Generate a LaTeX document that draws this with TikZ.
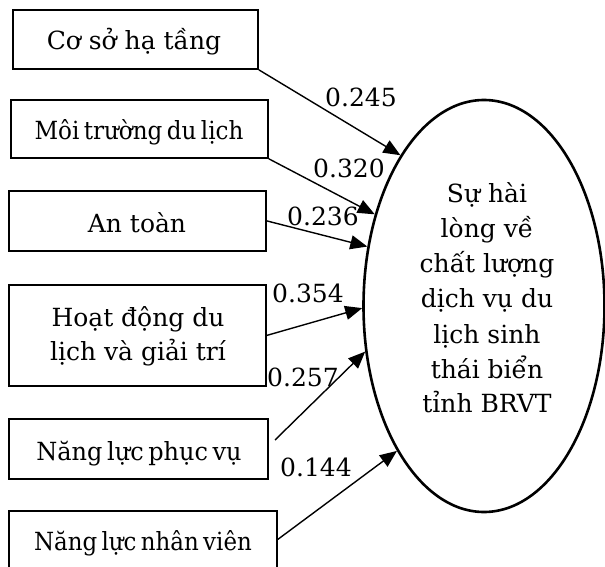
\documentclass[tikz,border=0pt]{standalone}
\usepackage{fontspec}
\usepackage{graphicx}
\setmainfont{DejaVu Serif}
\usetikzlibrary{arrows.meta,shapes.geometric}
% tighter setting for the longer box labels
\newcommand{\tightlabel}[2]{\scalebox{#1}[1]{\spaceskip=0.19em\relax #2}}
\begin{document}
\begin{tikzpicture}[x=1pt,y=-1pt,
  every node/.style={font=\fontsize{25}{35}\selectfont},
  factor/.style={draw,line width=1.8pt,inner sep=0pt,anchor=north west},
  boxtext/.style={inner sep=0pt,anchor=base},
  coef/.style={inner sep=0pt,anchor=base west},
  line/.style={inner sep=0pt,anchor=base},
  path/.style={line width=1.4pt,-{Triangle[length=17pt,width=14pt]}}]
  \useasboundingbox (0,0) rectangle (605,567);

  % factor boxes
  \node[factor,minimum width=245pt,minimum height=59pt] (b1) at (12,9) {};
  \node[factor,minimum width=257pt,minimum height=58pt] (b2) at (10,99) {};
  \node[factor,minimum width=257pt,minimum height=60pt] (b3) at (8,190) {};
  \node[factor,minimum width=257pt,minimum height=101pt] (b4) at (8,284) {};
  \node[factor,minimum width=259pt,minimum height=60pt] (b5) at (8,418) {};
  \node[factor,minimum width=268pt,minimum height=57pt] (b6) at (8,510) {};

  \node[boxtext] (t1) at (134,50) {Cơ sở hạ tầng};
  \node[boxtext] (t2) at (139,140) {\tightlabel{0.923}{Môi trường du lịch}};
  \node[boxtext] (t3) at (137,232) {An toàn};
  \node[boxtext] (t4a) at (138,326) {Hoạt động du};
  \node[boxtext] (t4b) at (138,360) {lịch và giải trí};
  \node[boxtext] (t5) at (139,460) {\tightlabel{0.96}{Năng lực phục vụ}};
  \node[boxtext] (t6) at (143,550) {\tightlabel{0.917}{Năng lực nhân viên}};

  % outcome ellipse
  \node[draw,ellipse,line width=2.6pt,minimum width=241pt,minimum height=412pt,inner sep=0pt] (E) at (484,306) {};
  \node[line] (e1) at (487,202) {Sự hài};
  \node[line] (e2) at (487,237) {lòng về};
  \node[line] (e3) at (487,272) {chất lượng};
  \node[line] (e4) at (487,307) {dịch vụ du};
  \node[line] (e5) at (487,343) {lịch sinh};
  \node[line] (e6) at (487,378) {thái biển};
  \node[line] (e7) at (487,412) {tỉnh BRVT};

  % paths
  \coordinate (s5) at (275,440);
  \draw[path] (b1.south east) -- (E.119.6);
  \draw[path] (b2.south east) -- (E.140);
  \draw[path] (b3.east) -- (E.153.4);
  \draw[path] (b4.east) -- (E.181);
  \draw[path] (s5) -- (E.201.5);
  \draw[path] (b6.east) -- (E.239.7);

  % path coefficients
  \node[coef] (c1) at (325,107) {0.245};
  \node[coef] (c2) at (313,177) {0.320};
  \node[coef] (c3) at (287,225) {0.236};
  \node[coef] (c4) at (272,302) {0.354};
  \node[coef] (c5) at (267,386) {0.257};
  \node[coef] (c6) at (280,476) {0.144};
\end{tikzpicture}
\end{document}
